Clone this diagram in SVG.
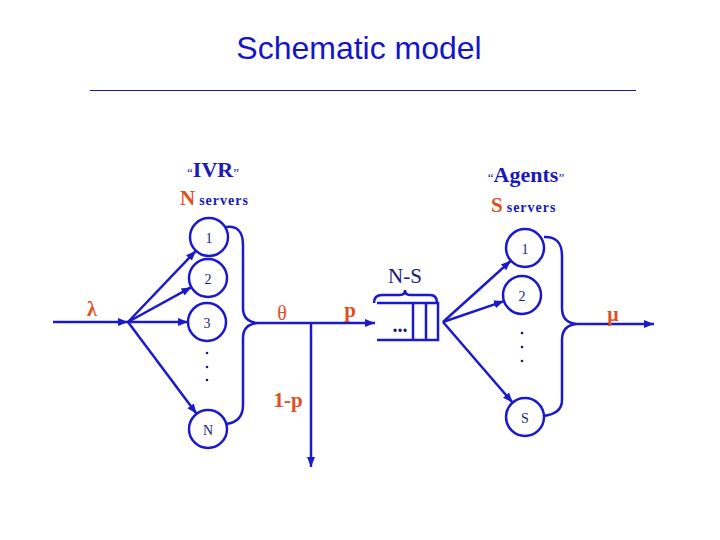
<svg xmlns="http://www.w3.org/2000/svg" width="720" height="540" viewBox="0 0 720 540">
<style>
.ln{stroke:#1a1acc;stroke-width:2.5;fill:none}
.cir{stroke:#1a1acc;stroke-width:2.5;fill:#fff}
.num{font-family:"Liberation Serif",serif;font-size:14px;fill:#1a1a80;text-anchor:middle}
.or{font-family:"Liberation Serif",serif;fill:#e0501e;font-weight:bold}
.bl{font-family:"Liberation Serif",serif;fill:#1a1ab4;font-weight:bold}
.srv{font-size:14px;fill:#1a1ab4;letter-spacing:1px}
.dot{fill:#1a1a80}
</style>
<defs>
<marker id="ah" markerUnits="userSpaceOnUse" markerWidth="12" markerHeight="10" refX="10" refY="5" orient="auto">
<path d="M0,1 L10,5 L0,9 Z" fill="#1a1acc"/>
</marker>
</defs>
<rect width="720" height="540" fill="#fff"/>
<g id="title">
<text x="359" y="59" font-family="Liberation Sans,Arial,sans-serif" font-size="32" fill="#1515c8" text-anchor="middle">Schematic model</text>
<line x1="90" y1="90.5" x2="636" y2="90.5" stroke="#1a1a8a" stroke-width="1.2"/>
</g>
<g id="connectors">
<line class="ln" x1="53" y1="322" x2="128" y2="322" marker-end="url(#ah)"/>
<line class="ln" x1="128" y1="322" x2="195.9" y2="250.8" marker-end="url(#ah)"/>
<line class="ln" x1="128" y1="322" x2="191.4" y2="287.2" marker-end="url(#ah)"/>
<line class="ln" x1="128" y1="322" x2="188" y2="322" marker-end="url(#ah)"/>
<line class="ln" x1="128" y1="322" x2="196.6" y2="413.8" marker-end="url(#ah)"/>
<path class="ln" d="M226,227 Q243,225 243,245 L243,308 Q243,322 258,323 Q243,324 243,338 L243,405 Q243,422 226,424"/>
<line class="ln" x1="258" y1="323" x2="375" y2="323" marker-end="url(#ah)"/>
<line class="ln" x1="311" y1="323" x2="311" y2="467" marker-end="url(#ah)"/>
<line class="ln" x1="443" y1="322" x2="510.9" y2="260.7" marker-end="url(#ah)"/>
<line class="ln" x1="443" y1="322" x2="504" y2="301.1" marker-end="url(#ah)"/>
<line class="ln" x1="443" y1="322" x2="512.6" y2="402.6" marker-end="url(#ah)"/>
<path class="ln" d="M544,237 Q562,236 562,256 L562,308 Q562,323 577,324 Q562,325 562,340 L562,400 Q562,414 543,416"/>
<line class="ln" x1="577" y1="324" x2="654" y2="324" marker-end="url(#ah)"/>
</g>
<g id="ivr-label">
<text x="213" y="177" class="bl" font-size="22" text-anchor="middle"><tspan font-size="13" style="font-weight:normal">“</tspan>IVR<tspan font-size="13" style="font-weight:normal">”</tspan></text>
<text x="180" y="205" class="or" font-size="21">N<tspan class="srv" dx="4">servers</tspan></text>
</g>
<g id="agents-label">
<text x="526" y="182" class="bl" font-size="22" text-anchor="middle"><tspan font-size="13" style="font-weight:normal">“</tspan>Agents<tspan font-size="13" style="font-weight:normal">”</tspan></text>
<text x="491" y="212" class="or" font-size="21">S<tspan class="srv" dx="4">servers</tspan></text>
</g>
<g id="ivr1"><circle class="cir" cx="209" cy="237" r="19"/><text class="num" x="209" y="243">1</text></g>
<g id="ivr2"><circle class="cir" cx="208" cy="278" r="19"/><text class="num" x="208" y="284">2</text></g>
<g id="ivr3"><circle class="cir" cx="207" cy="322" r="19"/><text class="num" x="207" y="328">3</text></g>
<g id="ivr-dots"><circle class="dot" cx="207" cy="353" r="1.3"/><circle class="dot" cx="207" cy="367" r="1.3"/><circle class="dot" cx="207" cy="380" r="1.3"/></g>
<g id="ivrN"><circle class="cir" cx="208" cy="429" r="19"/><text class="num" x="208" y="435">N</text></g>
<g id="queue">
<path class="ln" stroke-width="3" d="M377,303 L438,303 L438,340 L377,340 M413,303 L413,340 M426,303 L426,340"/>
<text x="400" y="332" font-family="Liberation Serif,serif" font-size="20" font-weight="bold" fill="#1a1a80" text-anchor="middle">...</text>
<path class="ln" stroke-width="2" d="M374,303 Q374,295 382,295 L400,295 Q405,295 405,290 Q405,295 410,295 L430,295 Q437,295 437,303"/>
<text x="405" y="283" font-family="Liberation Serif,serif" font-size="21" fill="#1a1a80" text-anchor="middle">N-S</text>
</g>
<g id="ag1"><circle class="cir" cx="525" cy="248" r="19"/><text class="num" x="525" y="254">1</text></g>
<g id="ag2"><circle class="cir" cx="522" cy="295" r="19"/><text class="num" x="522" y="301">2</text></g>
<g id="ag-dots"><circle class="dot" cx="522" cy="333" r="1.3"/><circle class="dot" cx="522" cy="347" r="1.3"/><circle class="dot" cx="522" cy="361" r="1.3"/></g>
<g id="agS"><circle class="cir" cx="525" cy="417" r="19"/><text class="num" x="525" y="423">S</text></g>
<g id="rates">
<text x="92" y="316" class="or" font-size="20" text-anchor="middle">λ</text>
<text x="282" y="320" class="or" font-size="20" text-anchor="middle" style="font-weight:normal">θ</text>
<text x="350" y="317" class="or" font-size="21" text-anchor="middle">p</text>
<text x="288" y="407" class="or" font-size="21" text-anchor="middle">1-p</text>
<text x="613" y="321" class="or" font-size="20" text-anchor="middle">μ</text>
</g>
</svg>
